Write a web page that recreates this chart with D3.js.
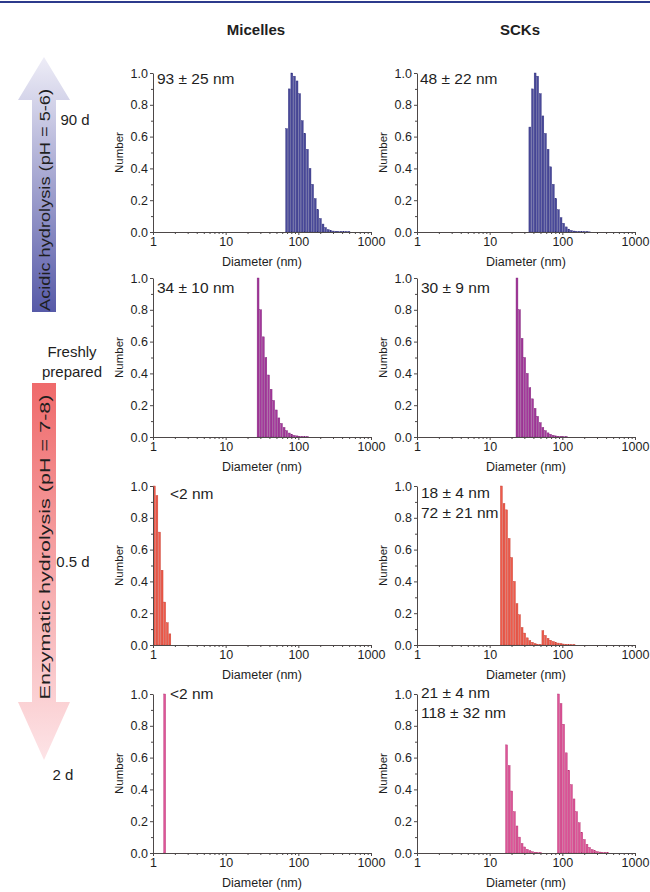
<!DOCTYPE html>
<html>
<head>
<meta charset="utf-8"/>
<script src="https://d3js.org/d3.v7.min.js"></script>
<style>
body { margin: 0; background: #fff; }
svg text { font-family: "Liberation Sans", Arial, sans-serif; fill: #1e1e1e; }
.axis path, .axis line { stroke: #4d4848; stroke-width: 1; }
.axis text { font-size: 12.5px; fill: #1e1e1e; }
</style>
</head>
<body>
<svg id="svg" width="650" height="892"></svg>
<script>
// ---- data ----
var columnTitles = ["Micelles", "SCKs"];
var rowTitles = [["90 d"], ["Freshly", "prepared"], ["0.5 d"], ["2 d"]];
var arrowTexts = ["Acidic hydrolysis (pH = 5-6)", "Enzymatic hydrolysis (pH = 7-8)"];
var xTickLabels = [1, 10, 100, 1000];
var yTickValues = [0, 0.1, 0.2, 0.3, 0.4, 0.5, 0.6, 0.7, 0.8, 0.9, 1.0];
var binsPerDecade = 28;

// [diameter (nm, lower bin edge), number]
var micelles90d = [[66.3,0.65],[72.0,0.90],[78.1,1.00],[84.8,0.98],[92.1,0.95],[100,0.87],[108.6,0.70],
  [117.9,0.62],[128.0,0.52],[139.0,0.40],[150.9,0.30],[163.8,0.21],[177.8,0.14],[193.1,0.085],[209.7,0.05],
  [227.6,0.028],[247.1,0.015],[268.3,0.009],[291.4,0.006],[316.2,0.004],[343.4,0.003],[372.8,0.003],
  [404.8,0.002],[439.4,0.002],[477.1,0.002]];
var scks90d = [[34.3,0.66],[37.3,0.90],[40.5,1.00],[43.9,0.98],[47.7,0.87],[51.8,0.73],[56.2,0.62],
  [61.1,0.52],[66.3,0.41],[72.0,0.30],[78.1,0.21],[84.8,0.14],[92.1,0.09],[100,0.055],[108.6,0.032],
  [117.9,0.018],[128.0,0.010],[139.0,0.006],[150.9,0.004],[163.8,0.003],[177.8,0.002],[193.1,0.002],
  [209.7,0.002],[227.6,0.001]];
var micellesFresh = [[26.8,1.00],[29.1,0.80],[31.6,0.63],[34.3,0.50],[37.3,0.39],[40.5,0.30],[43.9,0.23],
  [47.7,0.17],[51.8,0.12],[56.2,0.085],[61.1,0.06],[66.3,0.04],[72.0,0.025],[78.1,0.016],[84.8,0.010],
  [92.1,0.007],[100,0.005],[108.6,0.003],[117.9,0.002],[128.0,0.002]];
var scksFresh = [[22.8,1.00],[24.7,0.80],[26.8,0.62],[29.1,0.50],[31.6,0.40],[34.3,0.31],[37.3,0.24],
  [40.5,0.18],[43.9,0.13],[47.7,0.09],[51.8,0.06],[56.2,0.04],[61.1,0.026],[66.3,0.017],[72.0,0.011],
  [78.1,0.007],[84.8,0.005],[92.1,0.003],[100,0.002],[108.6,0.002]];
var micelles05d = [[1.00,1.00],[1.086,0.94],[1.179,0.71],[1.280,0.47],[1.390,0.27],[1.509,0.14],[1.638,0.07]];
var scks05d = [[13.9,1.00],[15.1,0.89],[16.4,0.85],[17.8,0.67],[19.3,0.55],[21.0,0.40],[22.8,0.26],
  [24.7,0.19],[26.8,0.11],[29.1,0.075],[31.6,0.045],[34.3,0.028],[37.3,0.017],[40.5,0.009],[43.9,0.005],
  [47.7,0.003],[51.8,0.09],[56.2,0.06],[61.1,0.042],[66.3,0.03],[72.0,0.022],[78.1,0.016],[84.8,0.012],
  [92.1,0.009],[100,0.006],[108.6,0.004],[117.9,0.003],[128.0,0.002],[139.0,0.002]];
var micelles2d = [[1.39,1.00]];
var scks2d = [[16.4,0.68],[17.8,0.55],[19.3,0.39],[21.0,0.26],[22.8,0.17],[24.7,0.10],[26.8,0.06],
  [29.1,0.038],[31.6,0.023],[34.3,0.015],[37.3,0.008],[40.5,0.004],[43.9,0.003],[47.7,0.002],
  [84.8,1.00],[92.1,0.94],[100,0.81],[108.6,0.63],[117.9,0.52],[128.0,0.43],[139.0,0.34],[150.9,0.26],
  [163.8,0.19],[177.8,0.13],[193.1,0.085],[209.7,0.055],[227.6,0.035],[247.1,0.022],[268.3,0.014],
  [291.4,0.009],[316.2,0.006],[343.4,0.004],[372.8,0.003],[404.8,0.002]];

var rowData = [[micelles90d, scks90d], [micellesFresh, scksFresh], [micelles05d, scks05d], [micelles2d, scks2d]];
var sizeLabels = [
  [["93 \u00b1 25 nm"], ["48 \u00b1 22 nm"]],
  [["34 \u00b1 10 nm"], ["30 \u00b1 9 nm"]],
  [["<2 nm"], ["18 \u00b1 4 nm", "72 \u00b1 21 nm"]],
  [["<2 nm"], ["21 \u00b1 4 nm", "118 \u00b1 32 nm"]]
];

// ---- layout ----
var colX = [153, 417], plotW = 218;
var rowY = [73, 278, 486, 694], plotH = 159;
var rowColors = [["#4a4a9a", "#2f2f7c"], ["#a4389c", "#7a1f74"], ["#ef5a4a", "#c23a2e"], ["#de5498", "#b3306f"]];
// label offsets per panel [dx, dy of first baseline]
var labelPos = [[[4, 11], [3, 11]], [[4, 15], [4, 15]], [[17, 13], [4, 12]], [[17, 5], [4, 4]]];
var binRatio = Math.pow(10, 1 / binsPerDecade);

var svg = d3.select("#svg");

svg.append("line").attr("x1", 0).attr("x2", 650).attr("y1", 2).attr("y2", 2)
  .attr("stroke", "#2c3a8c").attr("stroke-width", 2);

// column titles
svg.selectAll(".coltitle").data(columnTitles).join("text")
  .attr("x", function(d, i) { return colX[i] + plotW / 2 - 6; })
  .attr("y", 35)
  .attr("text-anchor", "middle")
  .style("font-size", "15px").style("font-weight", "bold")
  .text(function(d) { return d; });

// arrows
var defs = svg.append("defs");
var gb = defs.append("linearGradient").attr("id", "gBlue").attr("x1", 0).attr("y1", 1).attr("x2", 0).attr("y2", 0);
gb.append("stop").attr("offset", "0%").attr("stop-color", "#575aa8");
gb.append("stop").attr("offset", "100%").attr("stop-color", "#eeedf7");
var gr = defs.append("linearGradient").attr("id", "gRed").attr("x1", 0).attr("y1", 0).attr("x2", 0).attr("y2", 1);
gr.append("stop").attr("offset", "0%").attr("stop-color", "#ef6a6b");
gr.append("stop").attr("offset", "100%").attr("stop-color", "#fde4e7");

var cx = 44, sw = 12, hw = 26;
svg.append("path").attr("fill", "url(#gBlue)")
  .attr("d", d3.line()([[cx, 57], [cx + hw, 100], [cx + sw, 100], [cx + sw, 312], [cx - sw, 312], [cx - sw, 100], [cx - hw, 100]]) + "Z");
svg.append("path").attr("fill", "url(#gRed)")
  .attr("d", d3.line()([[cx - sw, 383], [cx + sw, 383], [cx + sw, 702], [cx + hw, 702], [cx, 760], [cx - hw, 702], [cx - sw, 702]]) + "Z");

var arrowMid = [[cx + 6, 200, 222], [cx + 6, 547, 305]];
svg.selectAll(".arrowtext").data(arrowTexts).join("text")
  .attr("transform", function(d, i) { return "translate(" + arrowMid[i][0] + "," + arrowMid[i][1] + ") rotate(-90)"; })
  .attr("text-anchor", "middle")
  .attr("textLength", function(d, i) { return arrowMid[i][2]; })
  .attr("lengthAdjust", "spacingAndGlyphs")
  .style("font-size", "15.5px")
  .text(function(d) { return d; });

// row titles
var rowTitlePos = [[75, 125], [72, 357], [73, 567], [63, 780]];
rowTitles.forEach(function(lines, i) {
  svg.append("g").selectAll("text").data(lines).join("text")
    .attr("x", rowTitlePos[i][0])
    .attr("y", function(d, j) { return rowTitlePos[i][1] + j * 20; })
    .attr("text-anchor", "middle")
    .style("font-size", "15px")
    .text(function(d) { return d; });
});

// panels
rowData.forEach(function(row, ri) {
  row.forEach(function(data, ci) {
    var x0 = colX[ci], y0 = rowY[ri];
    var x = d3.scaleLog().domain([1, 1000]).range([x0, x0 + plotW]);
    var y = d3.scaleLinear().domain([0, 1]).range([y0 + plotH, y0]);
    var g = svg.append("g");

    g.selectAll("rect").data(data).join("rect")
      .attr("x", function(d) { return x(d[0]) + 0.35; })
      .attr("y", function(d) { return y(d[1]); })
      .attr("width", function(d) { return Math.max(0.8, x(d[0] * binRatio) - x(d[0]) - 0.7); })
      .attr("height", function(d) { return y(0) - y(d[1]); })
      .attr("fill", rowColors[ri][0])
      .attr("stroke", rowColors[ri][1])
      .attr("stroke-width", 0.4);

    var xAxis = d3.axisBottom(x).tickValues(x.ticks())
      .tickFormat(function(d) { return xTickLabels.indexOf(d) >= 0 ? d : ""; })
      .tickSize(3).tickSizeOuter(0).tickPadding(2);
    var xg = g.append("g").attr("class", "axis").attr("transform", "translate(0," + (y0 + plotH) + ")").call(xAxis);
    xg.selectAll(".tick").filter(function(d) { return xTickLabels.indexOf(d) < 0; })
      .select("line").attr("y2", 2);

    var yAxis = d3.axisLeft(y).tickValues(yTickValues)
      .tickFormat(function(d) { return Math.round(d * 10) % 2 === 0 ? d3.format(".1f")(d) : ""; })
      .tickSize(3).tickSizeOuter(0).tickPadding(2);
    var yg = g.append("g").attr("class", "axis").attr("transform", "translate(" + x0 + ",0)").call(yAxis);
    yg.selectAll(".tick").filter(function(d) { return Math.round(d * 10) % 2 !== 0; })
      .select("line").attr("x2", -2);

    g.append("text")
      .attr("x", x0 + plotW / 2)
      .attr("y", y0 + plotH + 34)
      .attr("text-anchor", "middle")
      .style("font-size", "12.5px")
      .text("Diameter (nm)");
    g.append("text")
      .attr("transform", "translate(" + (x0 - 30) + "," + (y0 + plotH / 2) + ") rotate(-90)")
      .attr("text-anchor", "middle")
      .style("font-size", "11.5px")
      .text("Number");

    g.selectAll(".size").data(sizeLabels[ri][ci]).join("text")
      .attr("x", x0 + labelPos[ri][ci][0])
      .attr("y", function(d, j) { return y0 + labelPos[ri][ci][1] + j * 20; })
      .style("font-size", "15.5px")
      .text(function(d) { return d; });
  });
});
</script>
</body>
</html>
